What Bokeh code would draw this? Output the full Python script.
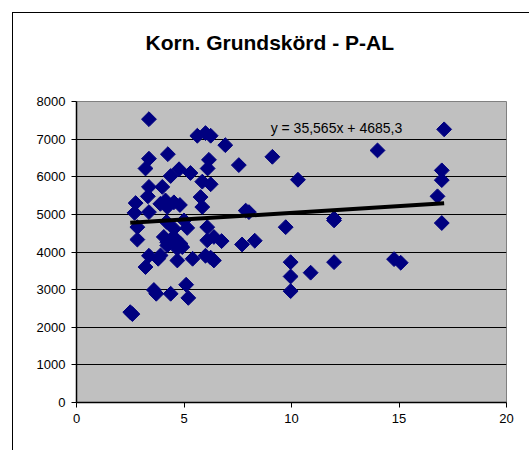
import math
from bokeh.plotting import figure
from bokeh.models import Range1d, FixedTicker, Label, Title
from bokeh.embed import file_html
from bokeh.resources import INLINE

title_text = "Korn. Grundskörd - P-AL"
eq_text = "y = 35,565x + 4685,3"
slope = 35.565
intercept = 4685.3

x_ticks = [0, 5, 10, 15, 20]
y_ticks = [0, 1000, 2000, 3000, 4000, 5000, 6000, 7000, 8000]

p_al = [2.50, 2.60, 2.75, 2.70, 2.83, 2.83, 3.37, 3.37, 3.21, 3.37,
        3.32, 3.37, 3.37, 3.21, 3.80, 3.60, 3.71, 3.99, 4.25, 4.77,
        4.38, 5.30, 4.14, 4.22, 4.81, 4.19, 4.53, 4.61, 4.06, 4.22,
        4.38, 4.22, 4.69, 4.84, 4.92, 3.91, 4.69, 5.40, 4.38, 5.10,
        5.20, 5.15, 5.00, 5.62, 6.00, 6.24, 6.92, 6.16, 6.10, 7.55,
        9.11, 10.30, 5.85, 6.24, 5.77, 5.85, 7.87, 8.02, 11.98, 11.98,
        9.73, 6.08, 6.39, 6.75, 8.29, 7.70, 6.08, 6.00, 6.24, 6.39,
        9.96, 9.96, 9.96, 10.89, 11.98, 14.77, 15.08, 17.10, 14.00, 16.99,
        16.99, 16.79, 16.99, 3.90, 4.53]
skord = [2400, 2350, 5300, 5040, 4660, 4330, 7530, 6480, 6220, 5730,
         5480, 5060, 3900, 3600, 3820, 2990, 2890, 5730, 6600, 6200,
         6020, 6100, 5370, 5195, 5250, 4800, 4620, 4350, 4400, 4260,
         4330, 4175, 4090, 4220, 4130, 3910, 3775, 3820, 2890, 3130,
         2780, 4640, 4840, 7090, 7160, 7090, 6840, 6450, 6220, 6310,
         6530, 5920, 5870, 5800, 5460, 5195, 5100, 5060, 4890, 4840,
         4660, 4660, 4400, 4290, 4300, 4200, 4310, 3900, 3850, 3775,
         3730, 3350, 2960, 3450, 3730, 3810, 3715, 7260, 6700, 6170,
         5910, 5480, 4770, 5280, 5320]

W, H = 529, 450
border_css = ("linear-gradient(#000, #000) 12px 12px / 100% 1px no-repeat, "
              "linear-gradient(#000, #000) 12px 12px / 1px 100% no-repeat, #fff")
p = figure(width=W, height=H, output_backend="svg", toolbar_location=None,
           x_range=Range1d(0, 20), y_range=Range1d(0, 8000),
           min_border_left=76, min_border_right=23, min_border_top=101,
           min_border_bottom=48,
           styles={"background": border_css})
p.background_fill_color = "#C0C0C0"
p.border_fill_color = None
p.outline_line_color = "#808080"
p.outline_line_width = 1

# spacer panel between the title and the plot area
p.add_layout(Title(text=" ", text_font_size="10px", standoff=35), "above")

p.title.text = title_text
p.title.align = "left"
p.title.offset = 69
p.title.standoff = 0
p.title.text_font = "Liberation Sans"
p.title.text_font_size = "21px"
p.title.text_font_style = "bold"
p.title.text_color = "black"

p.xgrid.visible = False
p.ygrid.ticker = FixedTicker(ticks=y_ticks[1:-1])
p.ygrid.grid_line_color = "black"
p.ygrid.grid_line_width = 1

for ax in (p.xaxis, p.yaxis):
    ax.axis_line_color = "black"
    ax.axis_line_width = 1.5
    ax.major_tick_line_color = "black"
    ax.major_tick_out = 5
    ax.major_tick_in = 0
    ax.minor_tick_line_color = None
    ax.major_label_text_font = "Liberation Sans"
    ax.major_label_text_font_size = "13px"
    ax.major_label_text_color = "black"
    ax.major_label_standoff = 6
p.xaxis.ticker = FixedTicker(ticks=x_ticks)
p.yaxis.ticker = FixedTicker(ticks=y_ticks)

p.scatter(p_al, skord, marker="square", size=10.5, angle=math.pi / 4,
          fill_color="#000080", line_color="#000080")

x0, x1 = min(p_al), max(p_al)
p.line([x0, x1], [slope * x0 + intercept, slope * x1 + intercept],
       line_color="black", line_width=4)

p.add_layout(Label(x=9.03, y=7290, text=eq_text, text_align="left",
                   text_baseline="middle", text_font="Liberation Sans",
                   text_font_size="14px", text_color="black"))

open("out.html", "w").write(file_html(p, INLINE))
